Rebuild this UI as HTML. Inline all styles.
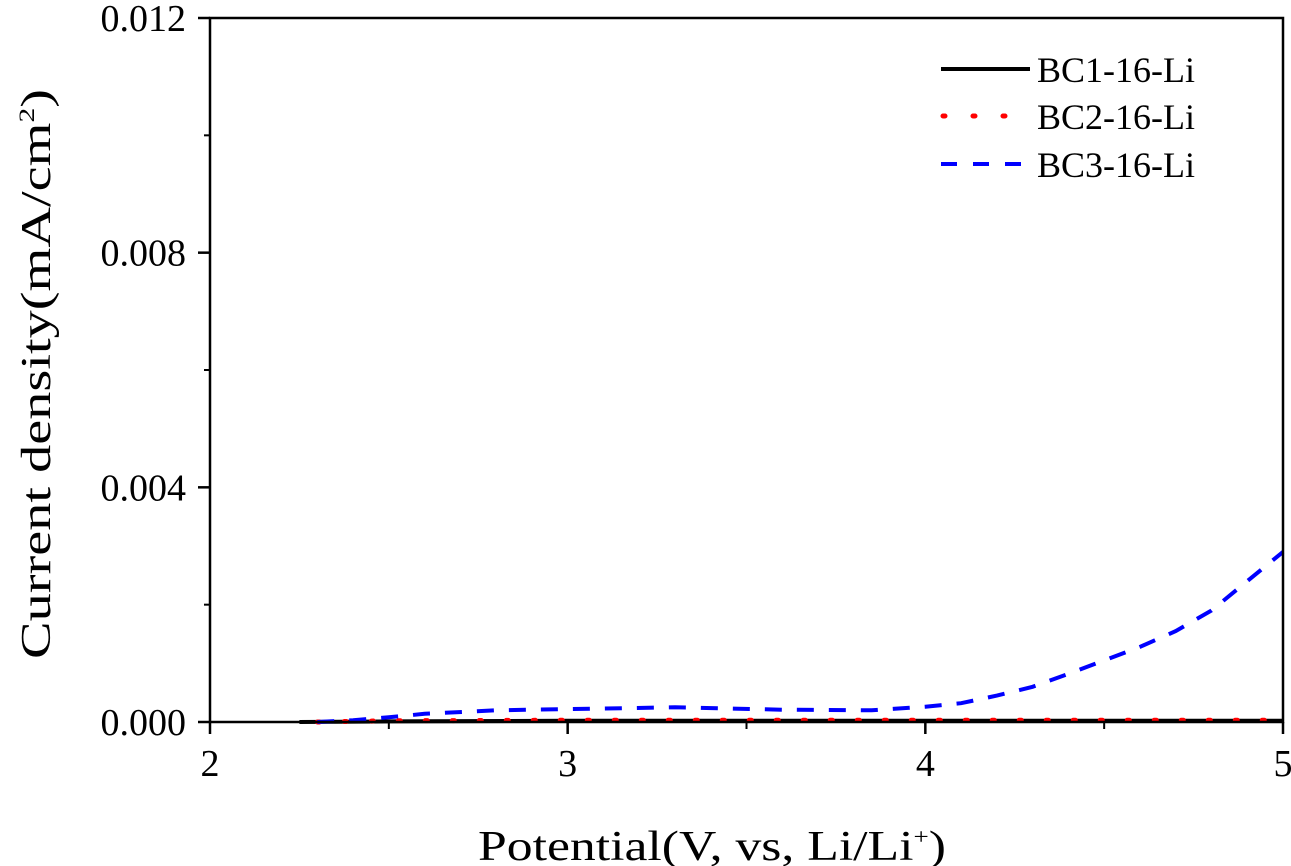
<!DOCTYPE html>
<html><head><meta charset="utf-8"><style>
body{margin:0;background:#fff;}
svg{display:block;font-family:"Liberation Serif",serif;}
</style></head><body>
<svg id="chart" width="1291" height="866" viewBox="0 0 1291 866">
<g id="axes"></g><g id="series"></g>
<rect x="210" y="18" width="1073" height="704" fill="none" stroke="#000" stroke-width="2.5"/>
<text x="478" y="860" font-size="42" textLength="468" lengthAdjust="spacingAndGlyphs">Potential(V, vs, Li/Li<tspan font-size="22" dy="-16">+</tspan><tspan dy="16">)</tspan></text>
<text transform="translate(50,374) rotate(-90)" text-anchor="middle" font-size="42" textLength="570" lengthAdjust="spacingAndGlyphs">Current density(mA/cm<tspan font-size="22" dy="-16">2</tspan><tspan dy="16">)</tspan></text>
<g>
<line x1="941" y1="69" x2="1030" y2="69" stroke="#000" stroke-width="4"/>
<text x="1037" y="82" font-size="36">BC1-16-Li</text>
<line x1="943" y1="116" x2="1030" y2="116" stroke="#f00" stroke-width="5" stroke-dasharray="2 28" stroke-linecap="round"/>
<text x="1037" y="129" font-size="36">BC2-16-Li</text>
<line x1="941" y1="164" x2="1022" y2="164" stroke="#00f" stroke-width="4" stroke-dasharray="16 16"/>
<text x="1037" y="177" font-size="36">BC3-16-Li</text>
</g>
</svg>
<script>
const xTicks=[2,3,4,5];
const xTickLabels=["2","3","4","5"];
const yTicks=[0,0.004,0.008,0.012];
const yTickLabels=["0.000","0.004","0.008","0.012"];
const bc1X=[2.25,2.5,3,3.5,4,4.5,5];
const bc1Y=[0,0.00001,0.00002,0.00002,0.00002,0.00002,0.00002];
const bc2X=[2.3,2.5,3,3.5,4,4.5,5];
const bc2Y=[0,0.00002,0.00003,0.00003,0.00003,0.00003,0.00003];
const bc3X=[2.3,2.4,2.5,2.6,2.8,3.0,3.3,3.6,3.85,4.0,4.1,4.2,4.3,4.4,4.5,4.6,4.7,4.8,4.9,5.0];
const bc3Y=[0,0.00003,0.00008,0.00014,0.0002,0.00022,0.00025,0.00021,0.0002,0.00026,0.00032,0.00045,0.0006,0.00082,0.00105,0.00128,0.00155,0.0019,0.0024,0.0029];
const X=v=>210+(v-2)*(1073/3);
const Y=v=>722-v*(704/0.012);
const NS="http://www.w3.org/2000/svg";
const axes=document.getElementById('axes'), series=document.getElementById('series');
function mk(tag,attrs,parent){const e=document.createElementNS(NS,tag);for(const k in attrs)e.setAttribute(k,attrs[k]);parent.appendChild(e);return e;}
xTicks.forEach((t,i)=>{
 const l=mk('line',{x1:X(t),x2:X(t),y1:722,y2:734,stroke:'#000','stroke-width':2.5},axes);
 
 
 if(i<xTicks.length-1){const m=mk('line',{x1:X(t+0.5),x2:X(t+0.5),y1:722,y2:729,stroke:'#000','stroke-width':2},axes);
 
 }
 const tx=mk('text',{x:X(t),y:776,'text-anchor':'middle','font-size':38},axes);tx.textContent=xTickLabels[i];
 
 
});
yTicks.forEach((t,i)=>{
 const l=mk('line',{x1:198,x2:210,y1:Y(t),y2:Y(t),stroke:'#000','stroke-width':2.5},axes);
 
 
 if(i<yTicks.length-1){const m=mk('line',{x1:204,x2:210,y1:Y(t+0.002),y2:Y(t+0.002),stroke:'#000','stroke-width':2},axes);
 
 }
 const tx=mk('text',{x:186,y:Y(t)+13,'text-anchor':'end','font-size':38},axes);tx.textContent=yTickLabels[i];
 
 
});
function path(xs,ys){return xs.map((x,i)=>(i?'L':'M')+X(x).toFixed(1)+' '+Y(ys[i]).toFixed(1)).join(' ');}
const p1=mk('path',{d:path(bc1X,bc1Y),fill:'none',stroke:'#000','stroke-width':4},series);


const p2=mk('path',{d:path(bc2X,bc2Y),fill:'none',stroke:'#f00','stroke-width':5,'stroke-dasharray':'2 25','stroke-linecap':'round'},series);


const p3=mk('path',{d:path(bc3X,bc3Y),fill:'none',stroke:'#00f','stroke-width':4,'stroke-dasharray':'17 15'},series);


</script>
</body></html>
